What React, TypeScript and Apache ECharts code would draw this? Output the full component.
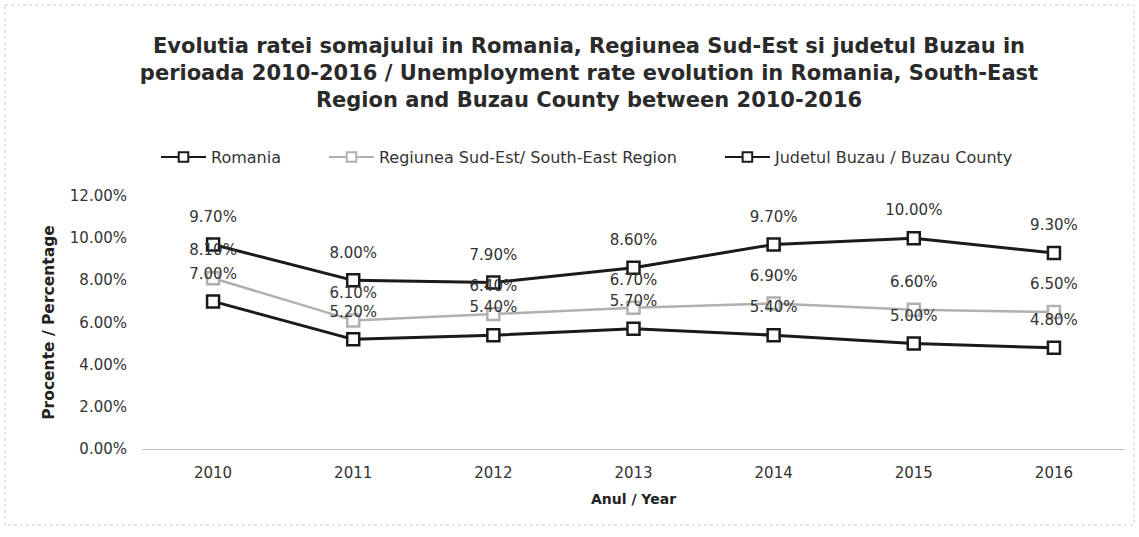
import React, { useEffect, useRef } from "react";
import * as echarts from "echarts";

const years = ["2010", "2011", "2012", "2013", "2014", "2015", "2016"];
const romania = [7.0, 5.2, 5.4, 5.7, 5.4, 5.0, 4.8];
const southEast = [8.1, 6.1, 6.4, 6.7, 6.9, 6.6, 6.5];
const buzau = [9.7, 8.0, 7.9, 8.6, 9.7, 10.0, 9.3];
const seriesNames = [
  "Romania",
  "Regiunea Sud-Est/ South-East Region",
  "Judetul Buzau / Buzau County",
];
const titleText =
  "Evolutia ratei somajului in Romania, Regiunea Sud-Est si judetul Buzau in\nperioada 2010-2016 / Unemployment rate evolution in Romania, South-East\nRegion and Buzau County between 2010-2016";

export default function App() {
  const ref = useRef<HTMLDivElement>(null);
  useEffect(() => {
    const chart = echarts.init(ref.current!, null, { renderer: "svg" });
    const font = "DejaVu Sans, Liberation Sans, sans-serif";
    const mk = (name: string, data: number[], color: string, w: number) => ({
      name,
      type: "line",
      data,
      symbol: "rect",
      symbolSize: 12,
      lineStyle: { color, width: w },
      itemStyle: { color: "#fff", borderColor: color, borderWidth: 2.5 },
      label: {
        show: true,
        position: "top",
        distance: 13,
        fontFamily: font,
        fontSize: 15,
        color: "#333",
        formatter: (p: any) => p.value.toFixed(2) + "%",
      },
    });
    chart.setOption({
      animation: false,
      backgroundColor: "#fff",
      textStyle: { fontFamily: font },
      title: {
        text: titleText,
        left: 584,
        textAlign: "center",
        top: 27,
        textStyle: {
          fontFamily: font,
          fontSize: 21,
          fontWeight: "bold",
          color: "#2a2a2a",
          lineHeight: 27,
        },
      },
      legend: {
        top: 144,
        left: 155,
        itemWidth: 45,
        itemHeight: 12,
        itemGap: 47,
        textStyle: { fontFamily: font, fontSize: 16, color: "#333" },
        data: seriesNames,
      },
      graphic: [
        {
          type: "rect",
          shape: { x: 5, y: 5, width: 1129, height: 520 },
          style: { fill: "none", stroke: "#ccc", lineWidth: 1, lineDash: [3, 3] },
        },
      ],
      grid: { left: 143, top: 196, width: 981, height: 253 },
      xAxis: {
        type: "category",
        data: years,
        boundaryGap: true,
        name: "Anul / Year",
        nameLocation: "middle",
        nameGap: 43,
        nameTextStyle: { fontFamily: font, fontSize: 14, fontWeight: "bold", color: "#222" },
        axisLine: { lineStyle: { color: "#bbb", width: 1 } },
        axisTick: { show: false },
        axisLabel: { fontFamily: font, fontSize: 15, color: "#333", margin: 16 },
      },
      yAxis: {
        type: "value",
        min: 0,
        max: 12,
        interval: 2,
        name: "Procente / Percentage",
        nameLocation: "middle",
        nameGap: 86,
        nameTextStyle: { fontFamily: font, fontSize: 15.5, fontWeight: "bold", color: "#222" },
        axisLine: { show: false },
        axisTick: { show: false },
        splitLine: { show: false },
        axisLabel: {
          fontFamily: font,
          fontSize: 15,
          color: "#333",
          margin: 16,
          formatter: (v: number) => v.toFixed(2) + "%",
        },
      },
      series: [
        mk(seriesNames[0], romania, "#1a1a1a", 3),
        mk(seriesNames[1], southEast, "#b0b0b0", 2.5),
        mk(seriesNames[2], buzau, "#1a1a1a", 3),
      ],
    });
    return () => chart.dispose();
  }, []);
  return (
    <div
      ref={ref}
      style={{ position: "fixed", left: 0, top: 0, width: 1139, height: 537 }}
    />
  );
}
